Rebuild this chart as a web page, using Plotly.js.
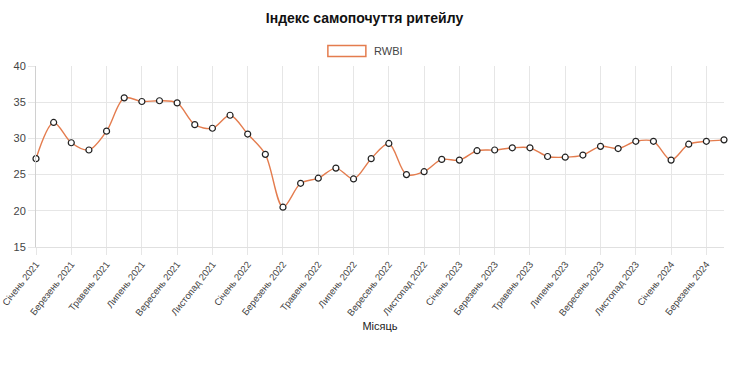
<!DOCTYPE html>
<html>
<head>
<meta charset="utf-8">
<script src="https://cdn.plot.ly/plotly-3.0.1.min.js"></script>
<style>html,body{margin:0;padding:0;background:#fff;}#chart{width:729px;height:374px;}</style>
</head>
<body>
<div id="chart"></div>
<script>
const months = [
  "Січень 2021","Лютий 2021","Березень 2021","Квітень 2021","Травень 2021","Червень 2021",
  "Липень 2021","Серпень 2021","Вересень 2021","Жовтень 2021","Листопад 2021","Грудень 2021",
  "Січень 2022","Лютий 2022","Березень 2022","Квітень 2022","Травень 2022","Червень 2022",
  "Липень 2022","Серпень 2022","Вересень 2022","Жовтень 2022","Листопад 2022","Грудень 2022",
  "Січень 2023","Лютий 2023","Березень 2023","Квітень 2023","Травень 2023","Червень 2023",
  "Липень 2023","Серпень 2023","Вересень 2023","Жовтень 2023","Листопад 2023","Грудень 2023",
  "Січень 2024","Лютий 2024","Березень 2024","Квітень 2024"
];
const rwbi = [
  27.2, 32.2, 29.4, 28.4, 31.0, 35.6, 35.1, 35.2, 34.9, 31.9, 31.4, 33.2,
  30.6, 27.8, 20.5, 23.8, 24.5, 25.9, 24.4, 27.2, 29.3, 25.0, 25.4, 27.1,
  27.0, 28.3, 28.4, 28.7, 28.7, 27.5, 27.4, 27.7, 28.9, 28.6, 29.6, 29.6,
  27.0, 29.2, 29.6, 29.8
];
const seriesName = "RWBI";
const chartTitle = "Індекс самопочуття ритейлу";
const xTitle = "Місяць";
const yTicks = [15, 20, 25, 30, 35, 40];

const idx = months.map((m, i) => i);
const tickIdx = idx.filter(i => i % 2 === 0);
const tickText = tickIdx.map(i => months[i]);
const lineColor = "rgb(228,124,78)";
const font = "Liberation Sans, Arial, Helvetica, sans-serif";
const textColor = "#444";

const trace = {
  x: idx, y: rwbi, text: months, type: "scatter", mode: "lines+markers", name: seriesName,
  line: {color: lineColor, width: 1.4, shape: "spline", smoothing: 0.9},
  marker: {size: 6, color: "#ffffff", line: {color: "#222", width: 1.2}},
  cliponaxis: false, showlegend: false,
  hovertemplate: "%{text}: %{y}<extra></extra>"
};

const layout = {
  width: 729, height: 374,
  margin: {l: 36, r: 4.7, t: 66, b: 127},
  paper_bgcolor: "#fff", plot_bgcolor: "#fff",
  font: {family: font, size: 11, color: textColor},
  title: {text: "<b>" + chartTitle + "</b>", x: 0.5, xanchor: "center", y: 0.952, yanchor: "middle",
          font: {family: font, size: 14, color: "#111"}},
  xaxis: {
    range: [0, 39], tickmode: "array", tickvals: tickIdx, ticktext: tickText, tickangle: -52,
    ticklabeloverflow: "allow",
    showgrid: true, gridcolor: "#e6e6e6", gridwidth: 1,
    ticks: "outside", ticklen: 7, tickcolor: "#e6e6e6",
    showline: true, linecolor: "#e0e0e0", zeroline: false,
    tickfont: {family: font, size: 9.5, color: textColor},
    title: {text: xTitle, font: {family: font, size: 11, color: "#222"}, standoff: 5}
  },
  yaxis: {
    range: [15, 40], tickmode: "array", tickvals: yTicks,
    showgrid: true, gridcolor: "#e6e6e6", gridwidth: 1,
    ticks: "outside", ticklen: 7, tickcolor: "#e6e6e6",
    showline: true, linecolor: "#d0d0d0", zeroline: false,
    tickfont: {family: font, size: 11, color: textColor}
  },
  shapes: [{
    type: "rect", xref: "paper", yref: "paper",
    x0: (328 - 36) / 688.3, x1: (366 - 36) / 688.3,
    y0: (374 - 127 - 56.5) / 181, y1: (374 - 127 - 45.5) / 181,
    line: {color: lineColor, width: 1.5}, fillcolor: "rgba(255,255,255,0)"
  }],
  annotations: [{
    text: seriesName, xref: "paper", yref: "paper",
    x: (372 - 36) / 688.3, y: (374 - 127 - 51) / 181, xanchor: "left", yanchor: "middle",
    showarrow: false, font: {family: font, size: 11, color: textColor}
  }]
};

Plotly.newPlot("chart", [trace], layout, {displayModeBar: false, staticPlot: true});
</script>
</body>
</html>
